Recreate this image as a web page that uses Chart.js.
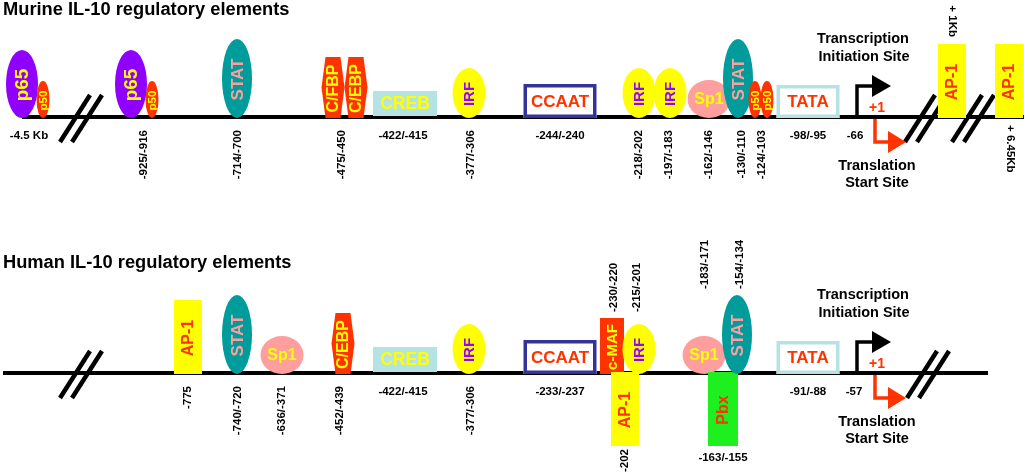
<!DOCTYPE html>
<html>
<head>
<meta charset="utf-8">
<script src="https://cdn.jsdelivr.net/npm/chart.js@4"></script>
<style>
  html, body { margin: 0; padding: 0; background: #fff; }
  #wrap { width: 1024px; height: 473px; }
</style>
</head>
<body>
<div id="wrap"><canvas id="il10Chart" width="1024" height="473"></canvas></div>
<script>
// ---- murine promoter ----
const murineTitle = 'Murine IL-10 regulatory elements';
const murineFactors = ['p65', 'p50', 'p65', 'p50', 'STAT', 'C/FBP', 'C/EBP', 'CREB', 'IRF', 'CCAAT',
    'IRF', 'IRF', 'Sp1', 'STAT', 'p50', 'p50', 'TATA', 'AP-1', 'AP-1'];
const murinePos = [22, 43, 131, 152, 237, 333, 356, 405, 469, 560,
    639, 670, 709, 738, 755, 767, 808, 952, 1009];
const murineSites = ['-4.5 Kb', '-925/-916', '-714/-700', '-475/-450', '-422/-415', '-377/-306', '-244/-240',
    '-218/-202', '-197/-183', '-162/-146', '-130/-110', '-124/-103', '-98/-95', '-66', '+ 1Kb', '+ 6.45Kb'];
const murineSitePos = [29, 144, 238, 342, 403, 471, 560, 639, 669, 709, 742, 762, 808, 855, 952, 1010];
const murineBreaks = [81, 926, 973];
const murineSpan = [22, 1024];
const murineStarts = [857, 875];   // transcription, translation

// ---- human promoter ----
const humanTitle = 'Human IL-10 regulatory elements';
const humanFactors = ['AP-1', 'STAT', 'Sp1', 'C/EBP', 'CREB', 'IRF', 'CCAAT', 'c-MAF', 'IRF', 'AP-1',
    'Sp1', 'Pbx', 'STAT', 'TATA'];
const humanPos = [188, 237, 282, 343, 405, 469, 560, 612, 639, 625, 704, 723, 737, 808];
const humanSites = ['-775', '-740/-720', '-636/-371', '-452/-439', '-422/-415', '-377/-306', '-233/-237',
    '-230/-220', '-215/-201', '-202', '-183/-171', '-154/-134', '-163/-155', '-91/-88', '-57'];
const humanSitePos = [188, 238, 282, 340, 403, 471, 560, 614, 637, 625, 705, 740, 723, 808, 854];
const humanBreaks = [81, 928];
const humanSpan = [3, 988];
const humanStarts = [857, 875];

// ---- layout (kept apart from the values) ----
const murineBase = 117;
const humanBase = 373;
const murineTitleY = 15;
const humanTitleY = 268;
const murineSide = murineFactors.map(() => 'up');
const humanSide = ['up', 'up', 'up', 'up', 'up', 'up', 'up', 'up', 'up', 'down', 'up', 'down', 'up', 'up'];
// h = horizontal under line, v = turned under line, v^ = turned above, cw / cw^ = turned clockwise
const murineSiteMode = ['h', 'v', 'v', 'v', 'h', 'v', 'h', 'v', 'v', 'v', 'v', 'v', 'h', 'h', 'cw^', 'cw'];
const humanSiteMode = ['v', 'v', 'v', 'v', 'h', 'v', 'h', 'v^', 'v^', 'v', 'v^', 'v^', 'h', 'h', 'h'];

const RED = '#FF3300';
const YEL = '#FFFF00';
const FONT = '"Liberation Sans", Arial, Helvetica, sans-serif';

const factorStyle = {
    'p65':   { shape: 'ellipse', w: 32, h: 68, fill: '#9000FF', color: YEL, fs: 19, rot: true },
    'p50':   { shape: 'ellipse', w: 13, h: 37, fill: RED, color: YEL, fs: 11.5, rot: true },
    'STAT':  { shape: 'ellipse', w: 30, h: 79, fill: '#009C9C', color: '#FF9E9E', fs: 17, rot: true },
    'C/FBP': { shape: 'hex', w: 23, h: 61, fill: RED, color: YEL, fs: 16, rot: true },
    'C/EBP': { shape: 'hex', w: 23, h: 61, fill: RED, color: YEL, fs: 16, rot: true },
    'CREB':  { shape: 'rect', w: 64, h: 25, fill: '#B5E3E3', color: YEL, fs: 17.5, lift: 2 },
    'IRF':   { shape: 'ellipse', w: 33, h: 50, fill: YEL, color: '#9900FF', fs: 15, rot: true },
    'CCAAT': { shape: 'rect', w: 73, h: 34, fill: '#FFFFFF', stroke: '#333399', lw: 3.5, color: RED, fs: 17 },
    'Sp1':   { shape: 'ellipse', w: 43, h: 38, fill: '#FF9E9E', color: YEL, fs: 16 },
    'TATA':  { shape: 'rect', w: 63, h: 33, fill: '#FFFFFF', stroke: '#B5E3E3', lw: 3.5, color: RED, fs: 17 },
    'AP-1':  { shape: 'rect', w: 28, h: 74, fill: YEL, color: RED, fs: 16, rot: true },
    'c-MAF': { shape: 'rect', w: 24, h: 56, fill: RED, color: YEL, fs: 15, rot: true },
    'Pbx':   { shape: 'rect', w: 30, h: 74, fill: '#1EEF1E', color: RED, fs: 16, rot: true }
};

const sections = [
    { title: murineTitle, titleY: murineTitleY, factors: murineFactors, side: murineSide, sites: murineSites,
      sitePos: murineSitePos, siteMode: murineSiteMode, breaks: murineBreaks, starts: murineStarts,
      base: murineBase, dataset: 2 },
    { title: humanTitle, titleY: humanTitleY, factors: humanFactors, side: humanSide, sites: humanSites,
      sitePos: humanSitePos, siteMode: humanSiteMode, breaks: humanBreaks, starts: humanStarts,
      base: humanBase, dataset: 3 }
];

function putText(ctx, text, x, y, opts) {
    ctx.save();
    ctx.font = 'bold ' + opts.fs + 'px ' + FONT;
    ctx.fillStyle = opts.color || '#000';
    ctx.textAlign = opts.align || 'center';
    ctx.textBaseline = opts.baseline || 'middle';
    ctx.translate(x, y);
    if (opts.angle) ctx.rotate(opts.angle);
    ctx.fillText(text, 0, 0);
    ctx.restore();
}

function drawFactor(ctx, name, cx, top) {
    const st = factorStyle[name];
    const w = st.w, h = st.h, left = cx - w / 2;
    ctx.save();
    ctx.fillStyle = st.fill;
    ctx.beginPath();
    if (st.shape === 'ellipse') {
        ctx.ellipse(cx, top + h / 2, w / 2, h / 2, 0, 0, Math.PI * 2);
    } else if (st.shape === 'hex') {
        const p = 4;
        ctx.moveTo(left + p, top);
        ctx.lineTo(left + w - p, top);
        ctx.lineTo(left + w, top + h / 2);
        ctx.lineTo(left + w - p, top + h);
        ctx.lineTo(left + p, top + h);
        ctx.lineTo(left, top + h / 2);
        ctx.closePath();
    } else {
        ctx.rect(left, top, w, h);
    }
    ctx.fill();
    if (st.stroke) {
        ctx.lineWidth = st.lw;
        ctx.strokeStyle = st.stroke;
        ctx.strokeRect(left + st.lw / 2, top + st.lw / 2, w - st.lw, h - st.lw);
    }
    ctx.restore();
    putText(ctx, name, cx + (st.rot ? 1 : 0), top + h / 2 + 1,
        { fs: st.fs, color: st.color, angle: st.rot ? -Math.PI / 2 : 0 });
}

function drawBreak(ctx, c, b) {
    ctx.save();
    ctx.strokeStyle = '#000';
    ctx.lineWidth = 4.5;
    [-6, 6].forEach(d => {
        ctx.beginPath();
        ctx.moveTo(c + d - 15, b + 25);
        ctx.lineTo(c + d + 15, b - 22);
        ctx.stroke();
    });
    ctx.restore();
}

function drawStarts(ctx, tx, rx, b) {
    ctx.save();
    ctx.lineWidth = 3.5;
    // transcription initiation
    ctx.strokeStyle = '#000';
    ctx.fillStyle = '#000';
    ctx.beginPath();
    ctx.moveTo(tx, b);
    ctx.lineTo(tx, b - 31);
    ctx.lineTo(tx + 17, b - 31);
    ctx.stroke();
    ctx.beginPath();
    ctx.moveTo(tx + 15, b - 42);
    ctx.lineTo(tx + 15, b - 20);
    ctx.lineTo(tx + 34, b - 31);
    ctx.closePath();
    ctx.fill();
    // translation start
    ctx.strokeStyle = RED;
    ctx.fillStyle = RED;
    ctx.beginPath();
    ctx.moveTo(rx, b + 2);
    ctx.lineTo(rx, b + 25);
    ctx.lineTo(rx + 15, b + 25);
    ctx.stroke();
    ctx.beginPath();
    ctx.moveTo(rx + 13, b + 14);
    ctx.lineTo(rx + 13, b + 36);
    ctx.lineTo(rx + 31, b + 25);
    ctx.closePath();
    ctx.fill();
    ctx.restore();

    putText(ctx, '+1', rx + 2, b - 9, { fs: 14, color: RED });
    putText(ctx, 'Transcription', tx + 6, b - 78, { fs: 14.5 });
    putText(ctx, 'Initiation Site', tx + 7, b - 60, { fs: 14.5 });
    putText(ctx, 'Translation', rx + 2, b + 49, { fs: 14.5 });
    putText(ctx, 'Start Site', rx + 2, b + 66, { fs: 14.5 });
}

const mapPlugin = {
    id: 'il10Map',
    afterDatasetsDraw(chart) {
        const ctx = chart.ctx;
        const xs = chart.scales.x, ys = chart.scales.y;
        sections.forEach(sec => {
            const b = ys.getPixelForValue(sec.base);
            const meta = chart.getDatasetMeta(sec.dataset);

            putText(ctx, sec.title, xs.getPixelForValue(3), ys.getPixelForValue(sec.titleY),
                { fs: 18.3, align: 'left', baseline: 'alphabetic' });

            sec.breaks.forEach(v => drawBreak(ctx, xs.getPixelForValue(v), b));

            const boxes = [];
            meta.data.forEach((pt, i) => {
                const st = factorStyle[sec.factors[i]];
                const down = sec.side[i] === 'down';
                const top = down ? pt.y - 1 : pt.y + 1 - st.h - (st.lift || 0);
                drawFactor(ctx, sec.factors[i], pt.x, top);
                boxes.push({ x: pt.x, top: top, bottom: top + st.h, down: down });
            });

            drawStarts(ctx, xs.getPixelForValue(sec.starts[0]), xs.getPixelForValue(sec.starts[1]), b);

            sec.sites.forEach((txt, i) => {
                const x = xs.getPixelForValue(sec.sitePos[i]);
                const mode = sec.siteMode[i];
                const under = boxes.find(bx => bx.down && Math.abs(bx.x - x) < 12);
                const opt = { fs: 11.5 };
                if (mode === 'h') {
                    putText(ctx, txt, x, under ? under.bottom + 12 : b + 19, opt);
                } else if (mode === 'v') {
                    putText(ctx, txt, x, under ? under.bottom + 3 : b + 13,
                        Object.assign(opt, { angle: -Math.PI / 2, align: 'right' }));
                } else if (mode === 'v^') {
                    const near = boxes.filter(bx => !bx.down && Math.abs(bx.x - x) < 40);
                    const top = Math.min.apply(null, near.map(bx => bx.top));
                    putText(ctx, txt, x, top - 6, Object.assign(opt, { angle: -Math.PI / 2, align: 'left' }));
                } else if (mode === 'cw^') {
                    const near = boxes.filter(bx => !bx.down && Math.abs(bx.x - x) < 12);
                    putText(ctx, txt, x, near[0].top - 7, Object.assign(opt, { angle: Math.PI / 2, align: 'right' }));
                } else if (mode === 'cw') {
                    putText(ctx, txt, x, b + 8, Object.assign(opt, { angle: Math.PI / 2, align: 'left' }));
                }
            });
        });
    }
};

const ctx = document.getElementById('il10Chart').getContext('2d');
new Chart(ctx, {
    type: 'scatter',
    data: {
        datasets: [
            {
                label: 'murine promoter',
                type: 'line',
                data: murineSpan.map(x => ({ x: x, y: murineBase })),
                borderColor: '#000',
                borderWidth: 4,
                pointRadius: 0,
                showLine: true
            },
            {
                label: 'human promoter',
                type: 'line',
                data: humanSpan.map(x => ({ x: x, y: humanBase })),
                borderColor: '#000',
                borderWidth: 4,
                pointRadius: 0,
                showLine: true
            },
            {
                label: 'murine factors',
                data: murinePos.map(x => ({ x: x, y: murineBase })),
                pointRadius: 0,
                pointHoverRadius: 0
            },
            {
                label: 'human factors',
                data: humanPos.map(x => ({ x: x, y: humanBase })),
                pointRadius: 0,
                pointHoverRadius: 0
            }
        ]
    },
    options: {
        responsive: false,
        animation: false,
        events: [],
        layout: { padding: 0 },
        plugins: {
            legend: { display: false },
            tooltip: { enabled: false }
        },
        scales: {
            x: { type: 'linear', min: 0, max: 1024, display: false },
            y: { type: 'linear', min: 0, max: 473, reverse: true, display: false }
        }
    },
    plugins: [mapPlugin]
});
</script>
</body>
</html>
